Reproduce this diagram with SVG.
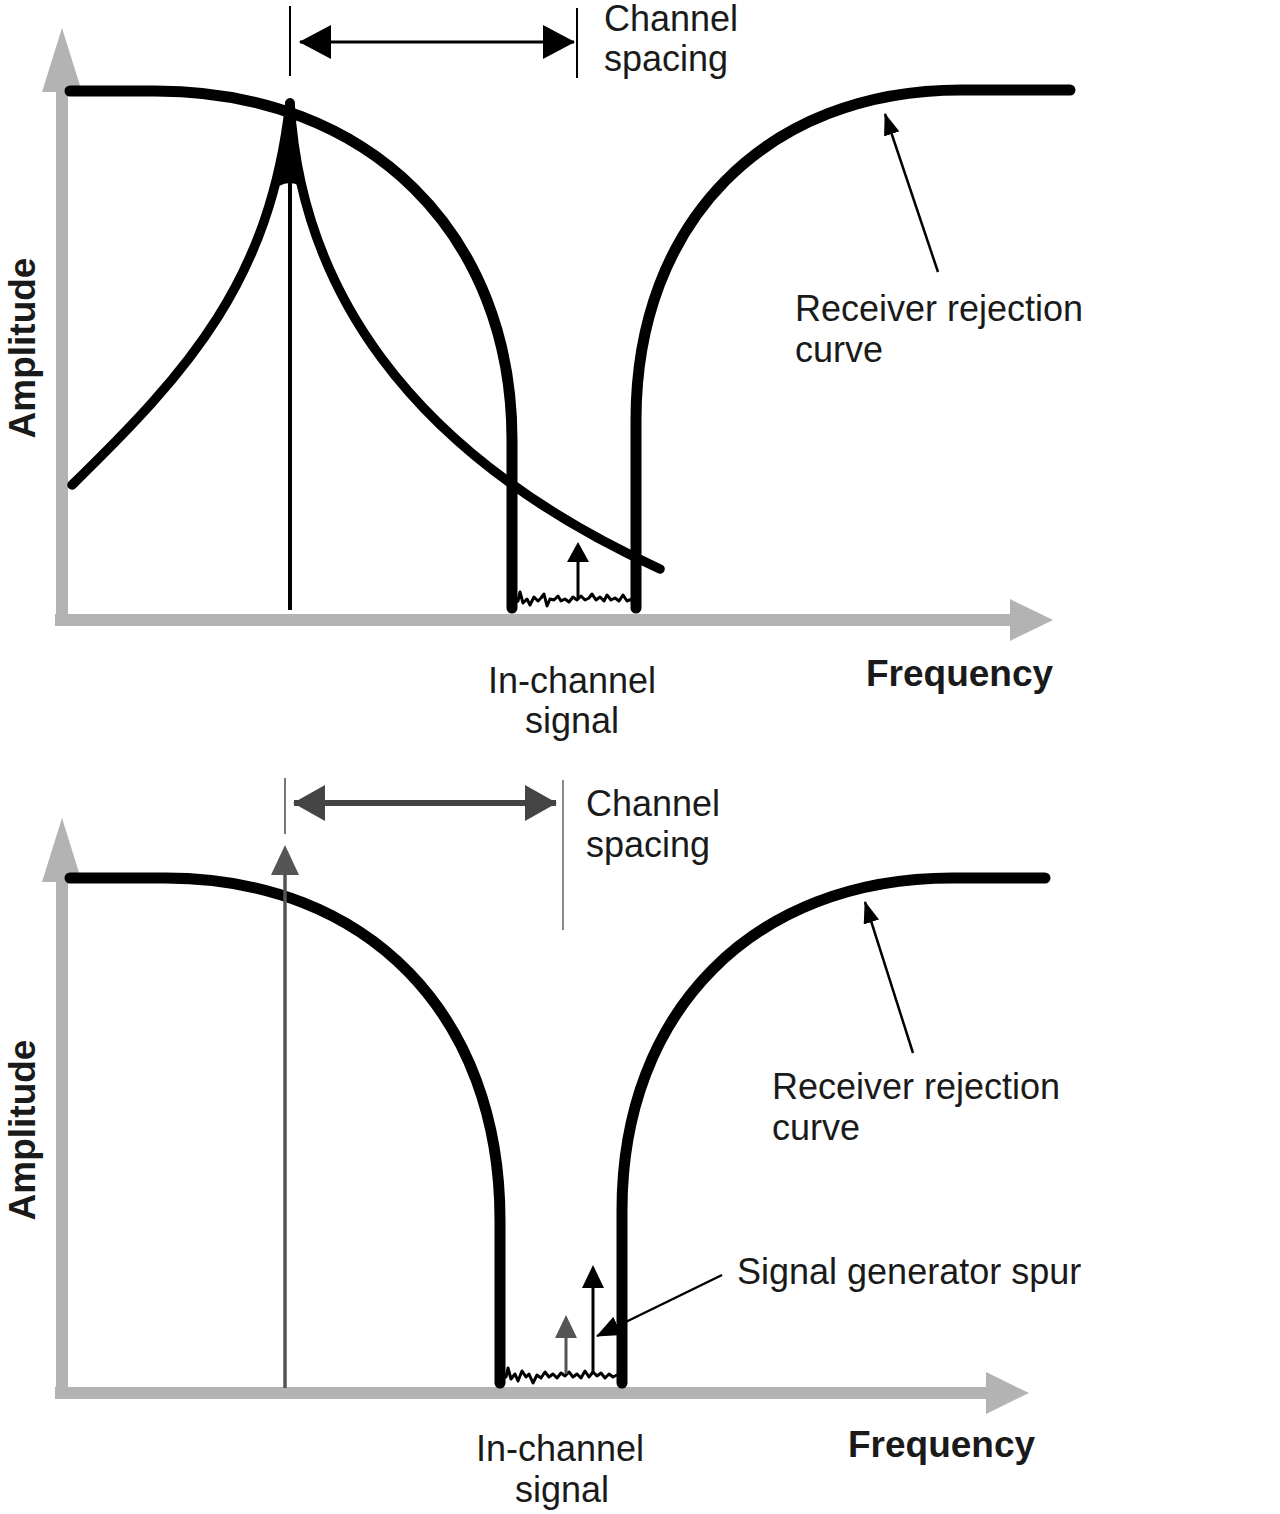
<svg xmlns="http://www.w3.org/2000/svg" width="1280" height="1514" viewBox="0 0 1280 1514">
<style>
.axis{stroke:#b3b3b3;stroke-width:12;fill:none}
.axhead{fill:#b3b3b3}
.curve{stroke:#000;stroke-width:11;fill:none;stroke-linecap:round;stroke-linejoin:round}
.peak{stroke:#000;stroke-width:9.5;fill:none;stroke-linecap:round}
.noise{stroke:#000;stroke-width:3;fill:none;stroke-linejoin:round}
.thin{stroke:#000;stroke-width:2;fill:none}
.lbl{font-family:"Liberation Sans",Arial,sans-serif;font-size:36px;fill:#1a1a1a}
.bold{font-family:"Liberation Sans",Arial,sans-serif;font-size:37px;font-weight:bold;fill:#1a1a1a}
</style>
<defs>
<marker id="ptr" markerUnits="userSpaceOnUse" markerWidth="22" markerHeight="16" viewBox="0 0 22 16" refX="21" refY="8" orient="auto">
<path d="M0,0 L22,8 L0,16 Z" fill="#000"/>
</marker>
<marker id="ptrBig" markerUnits="userSpaceOnUse" markerWidth="24" markerHeight="20" viewBox="0 0 24 20" refX="23" refY="10" orient="auto">
<path d="M0,0 L24,10 L0,20 Z" fill="#000"/>
</marker>
<marker id="bigB" markerUnits="userSpaceOnUse" markerWidth="32" markerHeight="34" viewBox="0 0 32 34" refX="31" refY="17" orient="auto-start-reverse">
<path d="M0,0 L32,17 L0,34 Z" fill="#000"/>
</marker>
<marker id="bigG" markerUnits="userSpaceOnUse" markerWidth="32" markerHeight="36" viewBox="0 0 32 36" refX="31" refY="18" orient="auto-start-reverse">
<path d="M0,0 L32,18 L0,36 Z" fill="#444"/>
</marker>
</defs>

<g id="top-panel">
  <g id="top-axes">
    <line class="axis" x1="62" y1="620" x2="62" y2="85"/>
    <polygon class="axhead" points="62,28 42,92 82,92"/>
    <line class="axis" x1="55" y1="620" x2="1012" y2="620"/>
    <polygon class="axhead" points="1053,620 1010,599 1010,641"/>
    <text class="bold" transform="translate(35,348) rotate(-90)" text-anchor="middle">Amplitude</text>
    <text class="bold" x="866" y="686">Frequency</text>
  </g>
  <g id="top-rejection-curve">
    <path class="curve" d="M70,91 L155,91 C370,91 512,235 512,440 L512,608"/>
    <path class="curve" d="M636,608 L636,420 C636,222 766,90 961,90 L1070,90"/>
    <path class="noise" d="M512,603 L518,601 L520,592 L523,603 L527,599 L530,605 L534,597 L538,601 L541,598 L544,594 L547,606 L550,599 L554,600 L558,596 L561,601 L565,599 L569,602 L573,597 L577,600 L581,596 L585,600 L589,598 L592,594 L596,600 L600,597 L604,601 L607,595 L611,600 L615,598 L619,601 L623,595 L627,601 L632,599 L636,600"/>
  </g>
  <g id="top-interferer">
    <line x1="290" y1="108" x2="290" y2="610" stroke="#000" stroke-width="4"/>
    <path d="M285,104 Q289,96 294,104 L300,186 Q290,180 279,186 Z" fill="#000"/>
    <path class="peak" d="M72,485 C190,370 270,280 290,103"/>
    <path class="peak" d="M290,103 C300,280 400,450 660,569"/>
  </g>
  <g id="top-inchannel-arrow">
    <line x1="578" y1="598" x2="578" y2="560" stroke="#000" stroke-width="3"/>
    <polygon points="578,542 567,562 589,562" fill="#000"/>
  </g>
  <g id="top-channel-spacing">
    <line class="thin" x1="290" y1="6" x2="290" y2="76"/>
    <line class="thin" x1="577" y1="8" x2="577" y2="78"/>
    <line x1="300" y1="42" x2="574" y2="42" stroke="#000" stroke-width="3" marker-start="url(#bigB)" marker-end="url(#bigB)"/>
    <text class="lbl" x="604" y="31">Channel</text>
    <text class="lbl" x="604" y="71">spacing</text>
  </g>
  <g id="top-receiver-label">
    <line x1="938" y1="272" x2="885" y2="114" stroke="#000" stroke-width="2.5" marker-end="url(#ptr)"/>
    <text class="lbl" x="795" y="321">Receiver rejection</text>
    <text class="lbl" x="795" y="362">curve</text>
  </g>
  <g id="top-inchannel-label">
    <text class="lbl" x="572" y="693" text-anchor="middle">In-channel</text>
    <text class="lbl" x="572" y="733" text-anchor="middle">signal</text>
  </g>
</g>

<g id="bottom-panel">
  <g id="bottom-axes">
    <line class="axis" x1="62" y1="1393" x2="62" y2="875"/>
    <polygon class="axhead" points="62,818 42,882 82,882"/>
    <line class="axis" x1="55" y1="1393" x2="988" y2="1393"/>
    <polygon class="axhead" points="1029,1393 986,1372 986,1414"/>
    <text class="bold" transform="translate(35,1130) rotate(-90)" text-anchor="middle">Amplitude</text>
    <text class="bold" x="848" y="1457">Frequency</text>
  </g>
  <g id="bottom-rejection-curve">
    <path class="curve" d="M70,878 L165,878 C368,878 500,1015 500,1220 L500,1383"/>
    <path class="curve" d="M622,1383 L622,1210 C622,1011 754,878 952,878 L1045,878"/>
    <path class="noise" d="M500,1378 L506,1377 L508,1368 L511,1379 L515,1374 L518,1381 L522,1371 L526,1377 L529,1374 L533,1383 L537,1375 L541,1378 L545,1372 L549,1377 L553,1374 L557,1378 L561,1373 L565,1376 L569,1372 L573,1377 L577,1374 L581,1378 L585,1371 L589,1377 L593,1372 L597,1376 L601,1373 L605,1378 L609,1374 L613,1377 L617,1375 L622,1376"/>
  </g>
  <g id="bottom-interferer">
    <line x1="285" y1="1388" x2="285" y2="872" stroke="#555" stroke-width="3.5"/>
    <polygon points="285,845 271,875 299,875" fill="#555"/>
  </g>
  <g id="bottom-spurs">
    <line x1="566" y1="1374" x2="566" y2="1336" stroke="#555" stroke-width="3"/>
    <polygon points="566,1315 555,1338 577,1338" fill="#555"/>
    <line x1="593" y1="1372" x2="593" y2="1286" stroke="#000" stroke-width="3"/>
    <polygon points="593,1265 582,1288 604,1288" fill="#000"/>
  </g>
  <g id="bottom-channel-spacing">
    <line x1="285" y1="778" x2="285" y2="834" stroke="#777" stroke-width="2"/>
    <line x1="563" y1="780" x2="563" y2="930" stroke="#888" stroke-width="2"/>
    <line x1="294" y1="803" x2="556" y2="803" stroke="#444" stroke-width="6" marker-start="url(#bigG)" marker-end="url(#bigG)"/>
    <text class="lbl" x="586" y="816">Channel</text>
    <text class="lbl" x="586" y="857">spacing</text>
  </g>
  <g id="bottom-receiver-label">
    <line x1="913" y1="1053" x2="865" y2="902" stroke="#000" stroke-width="2.5" marker-end="url(#ptr)"/>
    <text class="lbl" x="772" y="1099">Receiver rejection</text>
    <text class="lbl" x="772" y="1140">curve</text>
  </g>
  <g id="bottom-spur-label">
    <line x1="722" y1="1275" x2="597" y2="1336" stroke="#000" stroke-width="2.5" marker-end="url(#ptrBig)"/>
    <text class="lbl" x="737" y="1284">Signal generator spur</text>
  </g>
  <g id="bottom-inchannel-label">
    <text class="lbl" x="560" y="1461" text-anchor="middle">In-channel</text>
    <text class="lbl" x="562" y="1502" text-anchor="middle">signal</text>
  </g>
</g>
</svg>
